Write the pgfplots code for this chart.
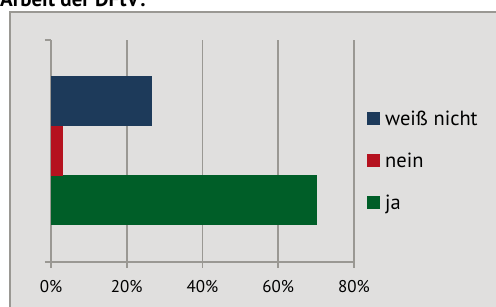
\documentclass[border=0pt]{standalone}
\usepackage{fontspec}
\setmainfont{PT Sans}
\usepackage{pgfplots}
\pgfplotsset{compat=1.18}
\definecolor{panel}{HTML}{E0DFDE}
\definecolor{gridc}{HTML}{9A9893}
\definecolor{navyb}{HTML}{1D3A5A}
\definecolor{redb}{HTML}{B5121F}
\definecolor{greenb}{HTML}{005E28}
\begin{document}
\begin{tikzpicture}[x=1pt,y=1pt]
\useasboundingbox (0,0) rectangle (496,307);
\clip (0,0) rectangle (496,307);
\fill[white] (0,0) rectangle (496,307);
\filldraw[fill=panel,draw=gridc,line width=1.8pt] (10,-10) rectangle (520,295);
\node[anchor=base west,font=\fontsize{21}{24}\selectfont\bfseries,inner sep=0pt] at (0,300) {Arbeit der DFtV:};
\begin{axis}[
  at={(51pt,45pt)}, anchor=south west,
  width=303pt, height=222pt, scale only axis,
  xmin=0, xmax=80, ymin=0, ymax=222,
  xtick={0,20,40,60,80},
  xticklabel={\pgfmathprintnumber{\tick}\%},
  ytick={0,222}, yticklabels={},
  axis x line*=bottom, axis y line*=left,
  axis line style={gridc,line width=1.8pt,-},
  xmajorgrids, grid style={gridc,line width=1.8pt},
  tick style={gridc,line width=1.8pt},
  tick align=outside, major tick length=6pt,
  /pgf/number format/assume math mode=true,
  ticklabel style={font=\fontsize{17}{20}\selectfont},
  xticklabel style={yshift=-9pt},
  xbar, bar width=50,
  legend image code/.code={\fill[#1,draw=none] (0pt,-6pt) rectangle (13pt,7pt);},
  legend style={at={(rel axis cs:1.033,0.455)}, anchor=west, draw=none, fill=none,
    font=\fontsize{20.5}{23}\selectfont, row sep=26pt,
    nodes={inner sep=0pt}},
  /tikz/every odd column/.append style={column sep=5pt},
  legend cell align=left,
  reverse legend,
]
\addplot[fill=greenb,draw=none,bar shift=0] coordinates {(70.3,62)};
\addplot[fill=redb,draw=none,bar shift=0] coordinates {(3.2,111)};
\addplot[fill=navyb,draw=none,bar shift=0] coordinates {(26.6,161)};
\legend{ja,nein,weiß nicht}
\end{axis}
\end{tikzpicture}
\end{document}
